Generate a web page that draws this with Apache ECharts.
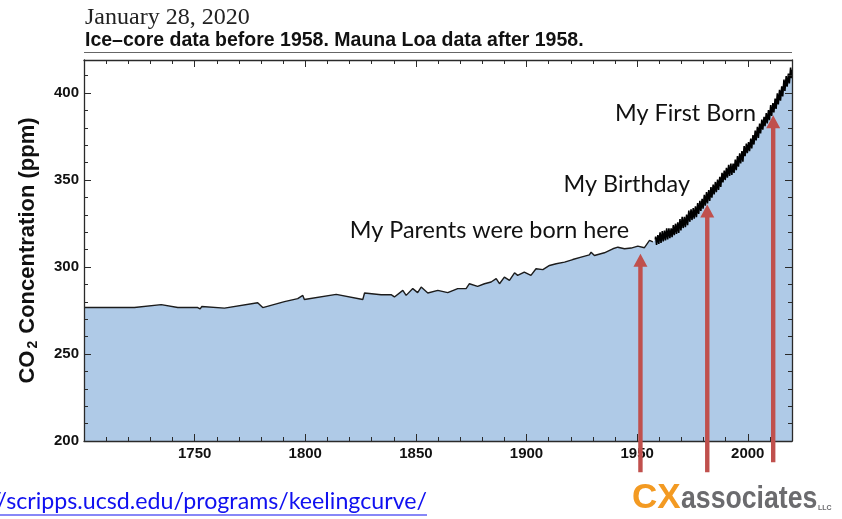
<!DOCTYPE html>
<html><head><meta charset="utf-8">
<script src="https://cdn.jsdelivr.net/npm/echarts@6/dist/echarts.min.js"></script>
<style>html,body{margin:0;padding:0;background:#fff}#c{width:842px;height:519px}</style>
</head><body><div id="c"></div><script>
// ---- Ice-core record (year, ppm) ----
const iceYears = [1700,1722.8,1723.2,1734.9,1742.4,1751.4,1752.5,1753.2,1763.5,1778.5,1780.8,1790.6,1796.6,1798.9,1799.6,1814.0,1826.0,1826.8,1834.3,1838.8,1840.3,1844.1,1845.6,1848.6,1850.8,1852.4,1855.4,1859.9,1864.4,1868.9,1872.7,1874.2,1877.9,1881.0,1884.0,1886.3,1887.8,1890.0,1892.3,1894.6,1896.0,1899.0,1902.0,1904.3,1907.4,1910.4,1913.4,1917.2,1920.9,1924.7,1928.4,1929.2,1930.7,1935.2,1939.0,1941.3,1944.3,1947.3,1950.3,1953.3,1955.6,1957.1];
const iceCO2   = [276.7,276.7,277.8,278.4,276.7,276.7,275.9,277.3,276.4,279.5,276.7,280.1,281.8,283.7,281.3,284.3,281.3,285.1,284.1,284.1,282.8,286.6,283.7,287.6,285.3,288.5,285.1,286.6,285.3,287.6,287.6,290.4,288.9,290.4,291.4,293.3,290.4,294.2,292.3,296.7,295.2,297.1,295.2,299.0,298.5,300.9,301.9,302.8,304.3,305.7,307.0,308.5,306.6,308.2,310.5,311.4,310.5,310.9,312.0,311.1,315.3,314.4];

// ---- Mauna Loa record: yearly seasonal maximum (May) and minimum (Oct) ----
const mloYears = [1958,1959,1960,1961,1962,1963,1964,1965,1966,1967,1968,1969,1970,1971,1972,1973,1974,1975,1976,1977,1978,1979,1980,1981,1982,1983,1984,1985,1986,1987,1988,1989,1990,1991,1992,1993,1994,1995,1996,1997,1998,1999,2000,2001,2002,2003,2004,2005,2006,2007,2008,2009,2010,2011,2012,2013,2014,2015,2016,2017,2018,2019];
const mloPeak   = [317.5,318.3,320.0,320.6,321.0,322.2,322.3,322.2,324.1,324.9,325.7,327.6,328.8,328.9,330.2,332.4,333.1,333.9,334.9,336.7,338.0,339.2,341.5,343.1,344.2,345.9,347.4,348.9,350.2,351.8,354.2,355.4,357.0,358.8,359.4,359.5,361.8,363.8,365.3,366.6,369.5,371.0,371.8,373.8,375.9,378.5,380.6,382.4,384.7,386.4,388.5,390.2,393.1,394.3,396.8,399.8,401.9,403.9,407.7,409.7,411.2,414.7];
const mloTrough = [312.7,313.3,313.8,314.7,315.3,315.9,316.6,317.1,318.3,319.0,319.6,321.1,322.4,322.9,324.0,326.0,327.0,327.8,328.6,330.5,332.2,333.5,335.3,336.6,338.0,339.9,341.7,343.0,344.3,346.0,348.6,350.0,351.3,352.4,353.0,354.1,355.7,357.7,359.6,360.5,363.7,365.5,366.6,368.2,370.4,372.8,374.2,376.8,378.9,380.9,382.6,384.4,386.8,388.8,390.9,393.4,395.6,398.0,401.2,403.6,405.5,408.5];
const mloEdgeYears = [1958.2, 2020.0];   // first (Mar 1958) and last (Jan 2020) months
const mloEdgeCO2   = [315.7, 413.4];
const peakMonth = 5, troughMonth = 10;

// ---- Axes ----
const xMin = 1700, xMax = 2020, xStep = 50;
const yMin = 200, yMax = 419, yStep = 50;

// ---- Annotations ----
const noteTexts = ['My Parents were born here', 'My Birthday', 'My First Born'];
const arrowYears = [1951.5, 1981.7, 2011.5];
const arrowTipCO2 = [307.7, 335.9, 387.2];
const arrowBaseCO2 = [182.0, 182.0, 187.8];

const iceData = iceYears.map((y, i) => [y, iceCO2[i]]);
const mloData = [[mloEdgeYears[0], mloEdgeCO2[0]]];
mloYears.forEach((y, i) => {
  mloData.push([y + (peakMonth - 0.5) / 12, mloPeak[i]]);
  mloData.push([y + (troughMonth - 0.5) / 12, mloTrough[i]]);
});
mloData.push([mloEdgeYears[1], mloEdgeCO2[1]]);
const fillData = iceData.concat(mloData);

const FILL = '#AFCAE7';
const AX = '#2a2a2a';
const labFont = {fontFamily: 'Liberation Sans, Arial, sans-serif', fontWeight: 'bold', fontSize: 15, color: '#111'};

function xAxisCfg(pos, show) {
  return {
    type: 'value', position: pos, min: xMin, max: xMax, interval: xStep, z: 10,
    axisLine: {show: true, onZero: false, lineStyle: {color: AX, width: 1.3}},
    axisTick: {show: true, inside: true, length: 7, lineStyle: {color: AX, width: 1}},
    minorTick: {show: true, splitNumber: 5, length: 4, lineStyle: {color: AX, width: 1}},
    axisLabel: Object.assign({show: show, showMinLabel: false, showMaxLabel: false, margin: 5, formatter: v => String(v)}, labFont),
    splitLine: {show: false}, minorSplitLine: {show: false}
  };
}
function yAxisCfg(pos, show) {
  const c = {
    type: 'value', position: pos, min: yMin, max: yMax, interval: yStep, z: 10,
    axisLine: {show: true, onZero: false, lineStyle: {color: AX, width: 1.3}},
    axisTick: {show: true, inside: true, length: 7, lineStyle: {color: AX, width: 1}},
    minorTick: {show: true, splitNumber: 5, length: 4, lineStyle: {color: AX, width: 1}},
    axisLabel: Object.assign({show: show, showMaxLabel: false, margin: 5, formatter: v => String(v)}, labFont),
    splitLine: {show: false}, minorSplitLine: {show: false}
  };
  if (show) {
    c.name = '{a|CO}{s|2}{a| Concentration (ppm)}';
    c.nameLocation = 'middle';
    c.nameGap = 44;
    c.nameRotate = 90;
    c.nameTextStyle = {rich: {
      a: {fontFamily: 'Liberation Sans, Arial, sans-serif', fontWeight: 'bold', fontSize: 22, color: '#111'},
      s: {fontFamily: 'Liberation Sans, Arial, sans-serif', fontWeight: 'bold', fontSize: 14, color: '#111', padding: [10, 1, 0, 2]}
    }};
  }
  return c;
}

const chart = echarts.init(document.getElementById('c'), null, {renderer: 'canvas'});
chart.setOption({
  animation: false,
  backgroundColor: '#fff',
  grid: {left: 84, right: 50, top: 60, bottom: 78, outerBoundsMode: 'none', containLabel: false},
  xAxis: [xAxisCfg('bottom', true), xAxisCfg('top', false)],
  yAxis: [yAxisCfg('left', true), yAxisCfg('right', false)],
  series: [
    {type: 'line', name: 'fill', data: fillData, showSymbol: false, symbol: 'none', silent: true,
     lineStyle: {width: 0, opacity: 0}, areaStyle: {color: FILL, opacity: 1, origin: 'start'}, z: 1},
    {type: 'line', name: 'Ice core', data: iceData, showSymbol: false, symbol: 'none',
     lineStyle: {color: '#1c1c1c', width: 1.4}, z: 3},
    {type: 'line', name: 'Mauna Loa', data: mloData, showSymbol: false, symbol: 'none',
     lineStyle: {color: '#000', width: 1.6}, z: 3}
  ]
});

const FONT_SANS = '"Liberation Sans", Arial, sans-serif';
const gfx = [
  {type: 'text', left: 85, top: 6, style: {text: 'January 28, 2020', font: '24px "Liberation Serif", "Times New Roman", serif', fill: '#222'}},
  {type: 'text', left: 85, top: 31, style: {text: 'Ice–core data before 1958. Mauna Loa data after 1958.', font: 'bold 19.5px ' + FONT_SANS, fill: '#111'}},
  {type: 'line', shape: {x1: 84, y1: 52.5, x2: 792, y2: 52.5}, style: {stroke: '#666', lineWidth: 1}},
  // link
  {type: 'text', x: 427, y: 502, style: {text: 'https://scripps.ucsd.edu/programs/keelingcurve/', font: '23.2px Lato, "Open Sans", sans-serif', fill: '#1010F0', align: 'right', verticalAlign: 'middle'}},
  {type: 'line', shape: {x1: 0, y1: 515, x2: 427, y2: 515}, style: {stroke: '#1010F0', lineWidth: 1.2}},
  // logo
  {type: 'text', x: 632, y: 498, style: {text: 'CX', font: 'bold 35px ' + FONT_SANS, fill: '#F39A22', verticalAlign: 'middle'}},
  {type: 'text', x: 681, y: 499, scaleX: 0.86, style: {text: 'associates', font: 'bold 31px ' + FONT_SANS, fill: '#6b6b6e', verticalAlign: 'middle'}},
  {type: 'text', x: 818, y: 508, style: {text: 'LLC', font: 'bold 7px ' + FONT_SANS, fill: '#6b6b6e', verticalAlign: 'middle'}}
];
const notePos = [[629, 230], [690, 184], [756, 113]];
noteTexts.forEach((t, i) => {
  gfx.push({type: 'text', x: notePos[i][0], y: notePos[i][1], z: 20, style: {text: t, font: '23.4px Lato, "Open Sans", sans-serif', fill: '#111', align: 'right', verticalAlign: 'middle'}});
});
arrowYears.forEach((yr, i) => {
  const tip = chart.convertToPixel({gridIndex: 0}, [yr, arrowTipCO2[i]]);
  const base = chart.convertToPixel({gridIndex: 0}, [yr, arrowBaseCO2[i]]);
  const x = tip[0], t = tip[1], b = base[1];
  const hw = 7, hh = 13, sw = 2.2;
  gfx.push({type: 'polygon', z: 30, shape: {points: [[x - sw, b], [x - sw, t + hh], [x - hw, t + hh], [x, t], [x + hw, t + hh], [x + sw, t + hh], [x + sw, b]]}, style: {fill: '#C0504D'}});
});
chart.setOption({graphic: gfx});
</script></body></html>
